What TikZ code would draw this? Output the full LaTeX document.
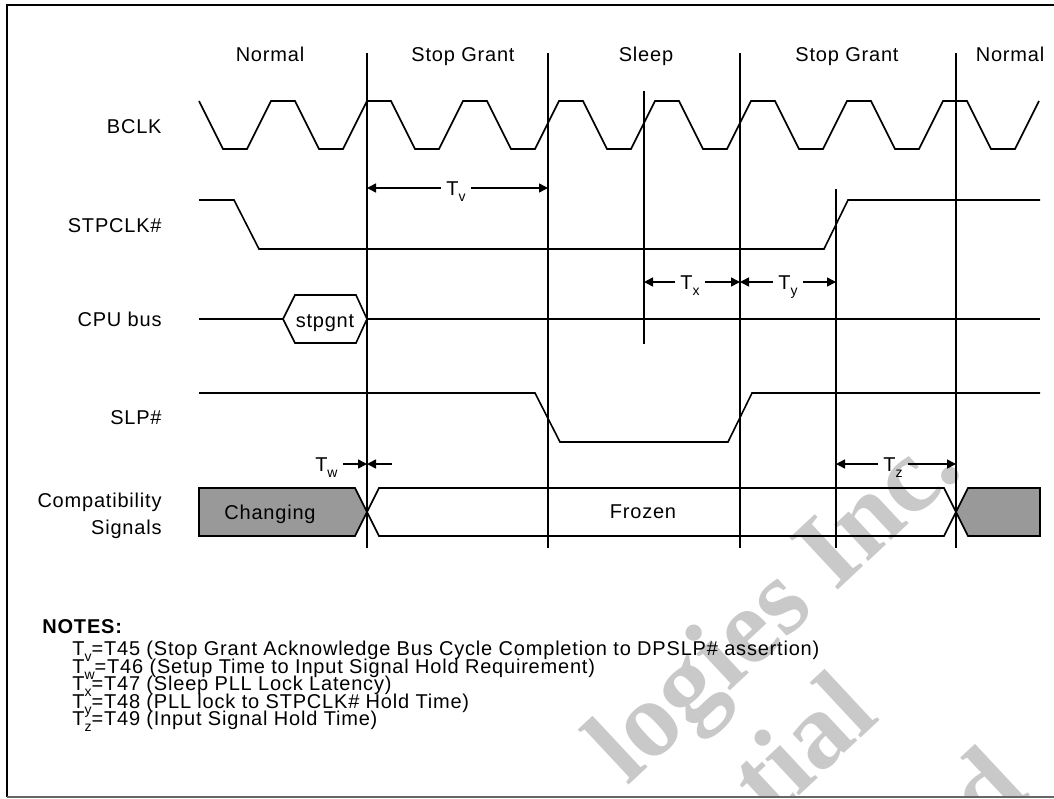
\documentclass[tikz,border=0pt]{standalone}
\usepackage{fontspec}
\setmainfont{Liberation Sans}[LetterSpace=4]
\newfontfamily\wmfont{Liberation Serif}
\usetikzlibrary{arrows.meta}
\newcommand{\tsub}[1]{\raisebox{-0.6ex}{\fontsize{7}{7}\selectfont #1}}

\begin{document}
\begin{tikzpicture}[x=0.5pt, y=-0.5pt, >={Triangle[length=4.5pt,width=4.5pt]},
  font=\fontsize{10}{13}\selectfont,
  sig/.style={line width=0.8pt},
  tline/.style={line width=0.8pt},
  caps/.style={text height=7.2pt, text depth=0pt},
  lbl/.style={caps, anchor=east, inner sep=0pt},
  phase/.style={caps, inner sep=0pt},
  dim/.style={caps, inner sep=2.5pt},
  notetxt/.style={anchor=base west, inner sep=0pt},
  wmark/.style={text=black!21, font=\wmfont\bfseries\fontsize{54}{54}\selectfont, rotate=43, anchor=base west, inner sep=0pt}]
  \useasboundingbox (0,0) rectangle (1054,798);

  % watermark, behind everything
  \begin{scope}
    \clip (7,5) rectangle (1054,797);
    \node[wmark] (wm1) at (627,787) {logies Inc.};
    \node[wmark] (wm2) at (771,822) {tial};
    \node[wmark] (wm3) at (987,836) {d};
  \end{scope}

  % frame
  \draw[line width=1pt] (1054,5) -- (7,5) -- (7,797);
  \draw[line width=1pt, black!60] (7,797) -- (1054,797);

  % phase boundaries
  \coordinate (l1) at (367,53);
  \coordinate (l2) at (548,53);
  \coordinate (l3) at (644,91);
  \coordinate (l4) at (740,53);
  \coordinate (l5) at (836,189);
  \coordinate (l6) at (956,53);
  \coordinate (bot) at (0,548);

  \draw[tline] (l1) -- (l1 |- bot);
  \draw[tline] (l2) -- (l2 |- bot);
  \draw[tline] (l3) -- (644,344);
  \draw[tline] (l4) -- (l4 |- bot);
  \draw[tline] (l5) -- (l5 |- bot);
  \draw[tline] (l6) -- (l6 |- bot);

  % phase names
  \node[phase] (ph1) at (270,54) {Normal};
  \node[phase] (ph2) at (463,54) {Stop Grant};
  \node[phase] (ph3) at (646,54) {Sleep};
  \node[phase] (ph4) at (847,54) {Stop Grant};
  \node[phase] (ph5) at (1010,54) {Normal};

  % signal names
  \node[lbl] (bclk) at (162,126) {BCLK};
  \node[lbl] (stpclk) at (162,225) {STPCLK\#};
  \node[lbl] (cpubus) at (162,319) {CPU bus};
  \node[lbl] (slp) at (162,417) {SLP\#};
  \node[lbl] (compat1) at (162,500) {Compatibility};
  \node[lbl] (compat2) at (162,527) {Signals};

  % BCLK
  \draw[sig] (199,101) foreach \k in {1,...,8} { -- ++(24,48) -- ++(24,0) -- ++(24,-48) -- ++(24,0) }
    -- ++(24,48) -- ++(24,0) -- ++(24,-48);

  % STPCLK#
  \draw[sig] (199,200) -- (234,200) -- (259,249) -- (824,249) -- (848,200) -- (1040,200);

  % CPU bus
  \draw[sig] (199,319) -- (283,319);
  \draw[sig] (283,319) -- (295,295) -- (356,295) -- (367,319) -- (356,343) -- (295,343) -- cycle;
  \node[phase] (stpgnt) at (325,320) {stpgnt};
  \draw[sig] (367,319) -- (1040,319);

  % SLP#
  \draw[sig] (199,393) -- (535,393) -- (560,442) -- (728,442) -- (752,393) -- (1040,393);

  % compatibility signals
  \draw[sig, fill=black!40] (199,488) -- (355,488) -- (367,512) -- (355,536) -- (199,536) -- cycle;
  \draw[sig] (367,512) -- (379,488) -- (944,488) -- (956,512) -- (944,536) -- (379,536) -- cycle;
  \draw[sig, fill=black!40] (956,512) -- (968,488) -- (1040,488) -- (1040,536) -- (968,536) -- cycle;
  \node[phase] (changing) at (270,512) {Changing};
  \node[phase] (frozen) at (643,511) {Frozen};

  % timing
  \node[dim] (tv) at (456,188) {T\tsub{v}};
  \draw[sig, ->] (tv.west) -- (l1 |- tv);
  \draw[sig, ->] (tv.east) -- (l2 |- tv);

  \node[dim] (tx) at (690,282) {T\tsub{x}};
  \draw[sig, ->] (tx.west) -- (l3 |- tx);
  \draw[sig, ->] (tx.east) -- (l4 |- tx);

  \node[dim] (ty) at (788,282) {T\tsub{y}};
  \draw[sig, ->] (ty.west) -- (l4 |- ty);
  \draw[sig, ->] (ty.east) -- (l5 |- ty);

  \node[dim, anchor=east] (tw) at (343,464) {T\tsub{w}};
  \coordinate (twend) at (392,464);
  \draw[sig, ->] (tw.east) -- (l1 |- tw);
  \draw[sig, ->] (twend) -- (l1 |- twend);

  \node[dim] (tz) at (893,464) {T\tsub{z}};
  \draw[sig, ->] (tz.west) -- (l5 |- tz);
  \draw[sig, ->] (tz.east) -- (l6 |- tz);

  % notes
  \node[notetxt] (notes) at (42,633) {\bfseries NOTES:};
  \node[notetxt] (n1) at (72,655) {T\tsub{v}=T45 (Stop Grant Acknowledge Bus Cycle Completion to DPSLP\# assertion)};
  \node[notetxt] (n2) at (72,673) {T\tsub{w}=T46 (Setup Time to Input Signal Hold Requirement)};
  \node[notetxt] (n3) at (72,690) {T\tsub{x}=T47 (Sleep PLL Lock Latency)};
  \node[notetxt] (n4) at (72,708) {T\tsub{y}=T48 (PLL lock to STPCLK\# Hold Time)};
  \node[notetxt] (n5) at (72,725) {T\tsub{z}=T49 (Input Signal Hold Time)};
\end{tikzpicture}
\end{document}
